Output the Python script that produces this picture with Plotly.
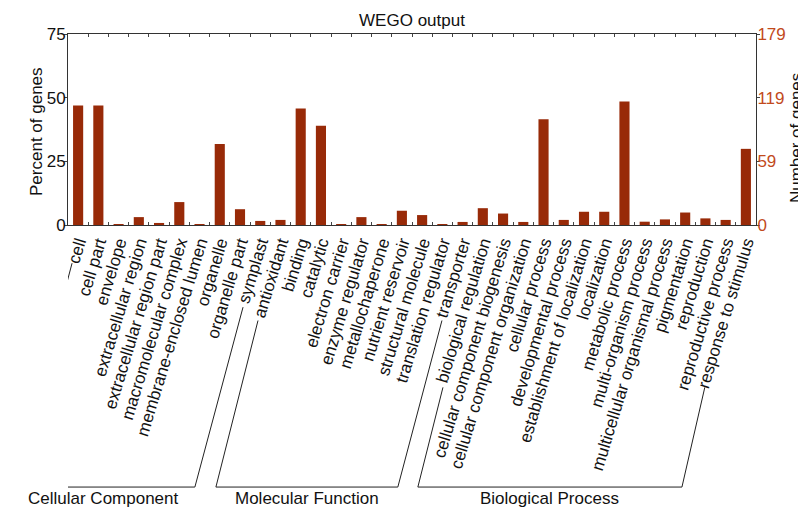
import numpy as np
import plotly.graph_objects as go

categories = [
    "cell", "cell part", "envelope", "extracellular region", "extracellular region part",
    "macromolecular complex", "membrane-enclosed lumen", "organelle", "organelle part", "symplast",
    "antioxidant", "binding", "catalytic", "electron carrier", "enzyme regulator",
    "metallochaperone", "nutrient reservoir", "structural molecule", "translation regulator", "transporter",
    "biological regulation", "cellular component biogenesis", "cellular component organization",
    "cellular process", "developmental process", "establishment of localization", "localization",
    "metabolic process", "multi-organism process", "multicellular organismal process",
    "pigmentation", "reproduction", "reproductive process", "response to stimulus",
]
percent_of_genes = [
    46.9, 46.9, 0.3, 3.1, 0.8, 9.0, 0.3, 31.8, 6.2, 1.6,
    2.0, 45.7, 39.0, 0.3, 3.1, 0.3, 5.6, 3.9, 0.3, 1.2,
    6.6, 4.5, 1.2, 41.5, 2.0, 5.2, 5.2, 48.5, 1.3, 2.2, 4.9, 2.6, 2.0, 29.9,
]
left_ticks = [0, 25, 50, 75]
right_tick_labels = ["0", "59", "119", "179"]
right_max = 179

group_names = ["Cellular Component", "Molecular Function", "Biological Process"]
# bracket geometry: (bottom-left x, top-left x, top-left y, bottom-right x, top-right x, top-right y)
brackets = [
    (-3.22, -0.30, -0.20, 5.77, 8.15, -0.43),
    (6.81, 8.89, -0.50, 15.80, 17.98, -0.50),
    (16.79, 18.03, -0.85, 29.84, 30.97, -0.85),
]
base_y = -1.372
label_y = -1.43

BAR = "#982a08"
RIGHT = "#c24a1c"
FONT = "Liberation Sans, Arial, Helvetica, sans-serif"
TXT = "#111111"

fig = go.Figure()
fig.add_trace(go.Bar(x=categories, y=percent_of_genes, marker=dict(color=BAR, line=dict(width=0)),
                     showlegend=False, hoverinfo="x+y"))
fig.add_trace(go.Scatter(x=[categories[0]], y=[None], yaxis="y2", mode="lines",
                         showlegend=False, hoverinfo="skip"))

shapes = []
annotations = []
for name, (bl, tl, tly, br, tr, tr_y) in zip(group_names, brackets):
    line = dict(color="#222222", width=1)
    shapes.append(dict(type="line", xref="x", yref="paper", x0=tl, y0=tly, x1=bl, y1=base_y, line=line))
    shapes.append(dict(type="line", xref="x", yref="paper", x0=bl, y0=base_y, x1=br, y1=base_y, line=line))
    shapes.append(dict(type="line", xref="x", yref="paper", x0=br, y0=base_y, x1=tr, y1=tr_y, line=line))
    annotations.append(dict(text=name, xref="x", yref="paper", x=(bl + br) / 2, y=label_y,
                            showarrow=False, font=dict(size=17, color=TXT, family=FONT),
                            xanchor="center", yanchor="middle"))

annotations.append(dict(text="Percent of genes", xref="paper", yref="paper", x=0.0, xshift=-31, y=0.487,
                        textangle=-90, showarrow=False, font=dict(size=17, color=TXT, family=FONT),
                        xanchor="center", yanchor="middle"))
annotations.append(dict(text="Number of genes", xref="paper", yref="paper", x=1.0, xshift=40, y=0.455,
                        textangle=-90, showarrow=False, font=dict(size=17, color=TXT, family=FONT),
                        xanchor="center", yanchor="middle"))

fig.update_layout(
    width=798, height=500,
    margin=dict(l=60, r=50, t=26, b=283, autoexpand=False),
    paper_bgcolor="white", plot_bgcolor="white",
    font=dict(family=FONT, size=17, color=TXT),
    title=dict(text="WEGO output", x=0.5, xref="paper", xanchor="center", y=1 - 12 / 500, yanchor="middle",
               font=dict(size=17, family=FONT, color=TXT), automargin=False),
    bargap=0.5,
    xaxis=dict(type="category", range=[-0.5, len(categories) - 0.5], tickmode="linear", dtick=1, tick0=0,
               tickangle=-73, ticks="inside", ticklen=3, tickson="boundaries",
               showline=True, linecolor="#333333", linewidth=1, mirror="ticks", automargin=False,
               tickfont=dict(size=17, family=FONT, color=TXT), showgrid=False, zeroline=False),
    yaxis=dict(range=[0, 75], tickvals=left_ticks, ticks="outside", ticklen=3, automargin=False,
               ticklabelstandoff=-5,
               showline=True, linecolor="#333333", linewidth=1, showgrid=False, zeroline=False,
               tickfont=dict(size=17, family=FONT, color=TXT)),
    yaxis2=dict(range=[0, right_max], overlaying="y", side="right", automargin=False,
                tickvals=list(np.linspace(0, right_max, len(right_tick_labels))), ticktext=right_tick_labels,
                ticks="outside", ticklen=3, ticklabelstandoff=-6,
                showline=True, linecolor="#333333", linewidth=1,
                showgrid=False, zeroline=False, tickfont=dict(size=17, family=FONT, color=RIGHT)),
    shapes=shapes,
    annotations=annotations,
)

fig.write_html("out.html")
